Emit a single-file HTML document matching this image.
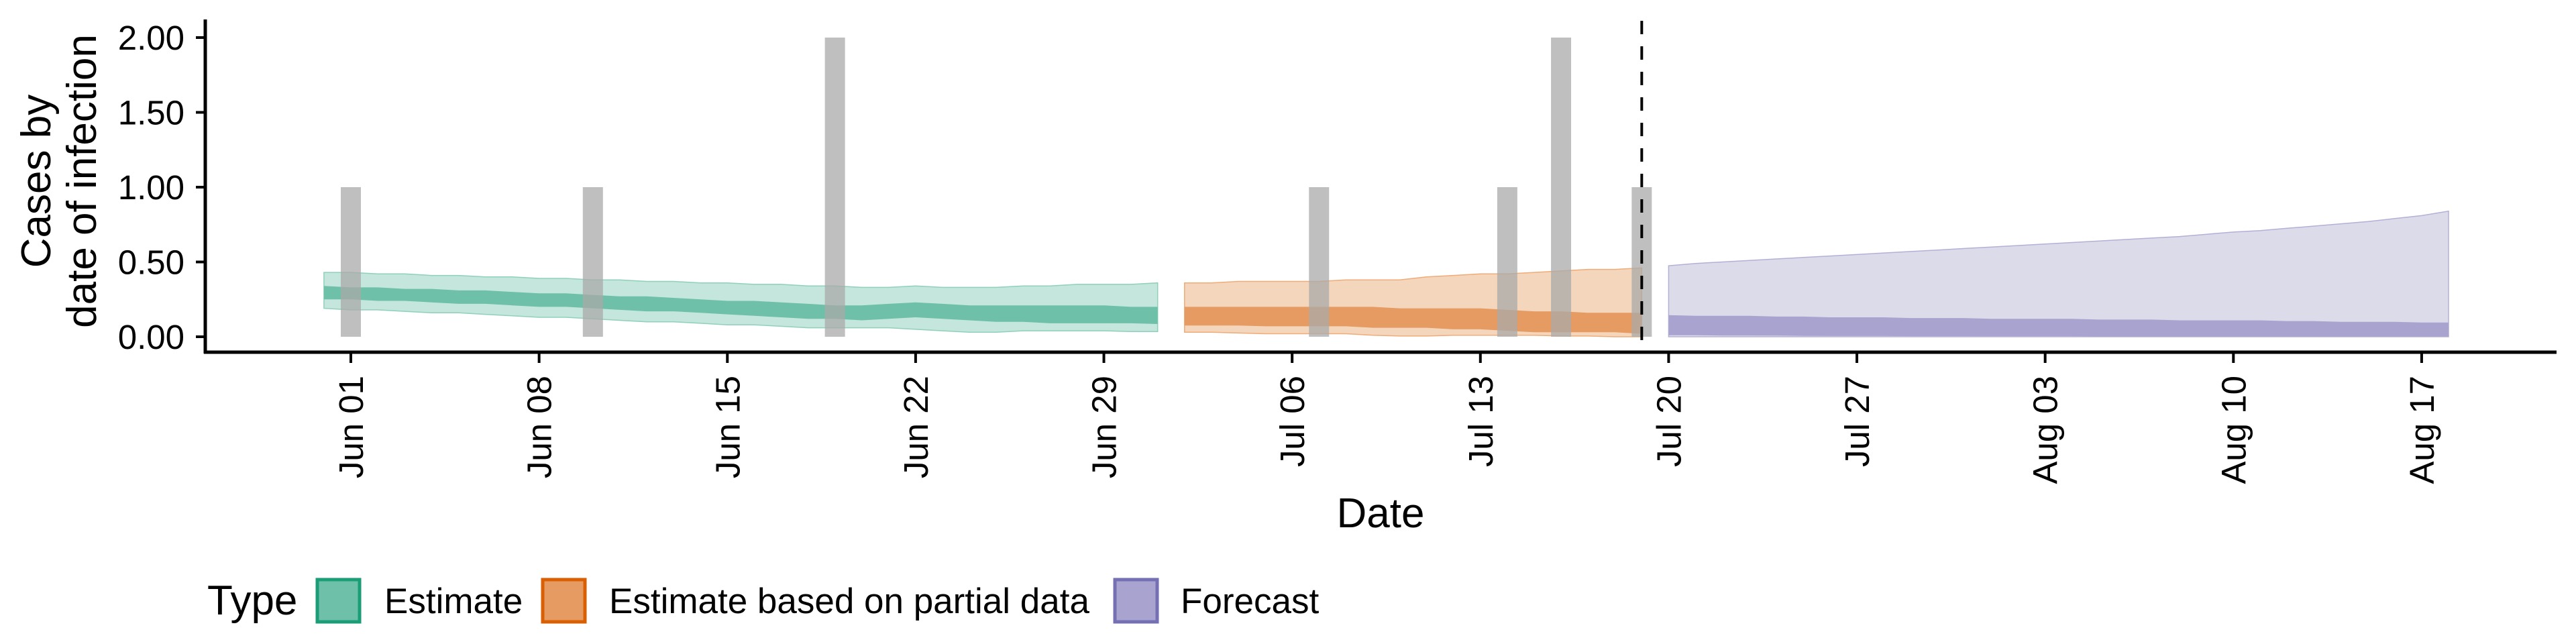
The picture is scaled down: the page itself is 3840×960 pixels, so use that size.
<!DOCTYPE html>
<html><head><meta charset="utf-8"><style>
html,body{margin:0;padding:0;background:#fff;}
svg{display:block;font-family:"Liberation Sans",sans-serif;}
</style></head><body>
<svg id="chart" width="3840" height="960" viewBox="0 0 3840 960"></svg>
<script>
// ---- data ----
const estDates0 = -1; // first estimate date offset from Jun 01 (May 31)
const estOuterUp = [0.43,0.43,0.42,0.42,0.41,0.41,0.40,0.40,0.39,0.39,0.38,0.38,0.37,0.37,0.36,0.36,0.35,0.35,0.34,0.34,0.33,0.33,0.34,0.33,0.33,0.33,0.34,0.34,0.35,0.35,0.35,0.36];
const estInnerUp = [0.34,0.33,0.33,0.32,0.32,0.31,0.31,0.30,0.29,0.29,0.28,0.27,0.27,0.26,0.25,0.24,0.24,0.23,0.22,0.21,0.21,0.22,0.23,0.22,0.21,0.21,0.21,0.21,0.21,0.21,0.20,0.20];
const estInnerLo = [0.25,0.25,0.24,0.24,0.23,0.22,0.22,0.21,0.20,0.20,0.19,0.18,0.17,0.17,0.16,0.15,0.14,0.13,0.12,0.12,0.11,0.12,0.13,0.12,0.11,0.10,0.10,0.09,0.09,0.09,0.09,0.085];
const estOuterLo = [0.19,0.18,0.18,0.17,0.16,0.16,0.15,0.14,0.13,0.13,0.12,0.11,0.10,0.10,0.09,0.08,0.08,0.07,0.06,0.06,0.06,0.06,0.05,0.04,0.03,0.03,0.04,0.04,0.04,0.04,0.035,0.035];

const partDates0 = 31; // Jul 02
const partOuterUp = [0.36,0.36,0.37,0.37,0.37,0.37,0.38,0.38,0.38,0.40,0.41,0.42,0.42,0.43,0.44,0.45,0.45,0.46];
const partInnerUp = [0.20,0.20,0.20,0.20,0.20,0.20,0.20,0.20,0.19,0.19,0.19,0.19,0.18,0.17,0.17,0.16,0.16,0.16];
const partInnerLo = [0.075,0.075,0.075,0.07,0.07,0.07,0.07,0.06,0.06,0.06,0.05,0.05,0.04,0.03,0.03,0.03,0.03,0.02];
const partOuterLo = [0.03,0.03,0.025,0.02,0.02,0.02,0.02,0.01,0.005,0.005,0.01,0.01,0.01,0.01,0.005,0.005,0.0,0.0];

const fcDates0 = 49; // Jul 20
const fcOuterUp = [0.475,0.49,0.50,0.51,0.52,0.53,0.54,0.55,0.56,0.57,0.58,0.59,0.60,0.61,0.62,0.63,0.64,0.65,0.66,0.67,0.685,0.70,0.71,0.725,0.74,0.755,0.77,0.79,0.81,0.84];
const fcInnerUp = [0.145,0.14,0.14,0.14,0.135,0.135,0.13,0.13,0.13,0.125,0.125,0.125,0.12,0.12,0.12,0.12,0.115,0.115,0.115,0.11,0.11,0.11,0.11,0.105,0.105,0.10,0.10,0.10,0.095,0.095];
const fcInnerLo = [0.01,0.01,0.008,0.008,0.007,0.006,0.005,0.005,0.005,0.004,0.004,0.004,0.003,0.003,0.003,0.003,0.002,0.002,0.002,0.002,0.002,0.002,0.002,0.002,0.002,0.002,0.002,0.002,0.002,0.002];
const fcOuterLo = [0,0,0,0,0,0,0,0,0,0,0,0,0,0,0,0,0,0,0,0,0,0,0,0,0,0,0,0,0,0];

const obsDays = [0,9,18,36,43,45,48];
const obsValues = [1,1,2,1,1,2,1];

const tickDays = [0,7,14,21,28,35,42,49,56,63,70,77];
const tickLabels = ["Jun 01","Jun 08","Jun 15","Jun 22","Jun 29","Jul 06","Jul 13","Jul 20","Jul 27","Aug 03","Aug 10","Aug 17"];
const yTicks = [0,0.5,1,1.5,2];
const yTickLabels = ["0.00","0.50","1.00","1.50","2.00"];
const forecastDay = 48;

// ---- scales ----
const X0 = 523, PXD = 40.09, Y0 = 502, PXU = 223;
const xs = d => X0 + d * PXD;
const ys = v => Y0 - v * PXU;
const NS = "http://www.w3.org/2000/svg";
const svg = document.getElementById('chart');
function mk(tag, attrs, parent){const e=document.createElementNS(NS,tag);for(const k in attrs)e.setAttribute(k,attrs[k]);(parent||svg).appendChild(e);return e;}

function ribbon(start, up, lo, fill, stroke, name){
  const n = up.length;
  let pts = [];
  for(let i=0;i<n;i++){const x0=xs(start+i)-PXD/2,x1=xs(start+i)+PXD/2;pts.push([i===0?xs(start+i)-PXD*0.0:x0,ys(up[i])]);pts.push([x1,ys(up[i])]);}
  // smooth-ish: use point at day centers, extend ends
  pts = [];
  for(let i=0;i<n;i++) pts.push([xs(start+i),ys(up[i])]);
  for(let i=n-1;i>=0;i--) pts.push([xs(start+i),ys(lo[i])]);
  const p = mk('polygon',{points:pts.map(p=>p[0].toFixed(1)+','+p[1].toFixed(1)).join(' '),fill:fill,stroke:stroke||'none','stroke-width':stroke?1.5:0});
  
  
}
const gBands = mk('g',{});



ribbon(estDates0, estOuterUp, estOuterLo, '#c5e6dc', '#8fd0bb', 'estimate-outer-band');
ribbon(estDates0, estInnerUp, estInnerLo, '#6fc0a8', null, 'estimate-inner-band');
ribbon(partDates0, partOuterUp, partOuterLo, '#f4d6bd', '#efab78', 'partial-outer-band');
ribbon(partDates0, partInnerUp, partInnerLo, '#e59b62', null, 'partial-inner-band');
ribbon(fcDates0, fcOuterUp, fcOuterLo, '#dcdbea', '#b3b0d6', 'forecast-outer-band');
ribbon(fcDates0, fcInnerUp, fcInnerLo, '#a8a4cf', null, 'forecast-inner-band');

// observed bars
obsDays.forEach((d,i)=>{
  const r = mk('rect',{x:xs(d)-15,y:ys(obsValues[i]),width:30,height:ys(0)-ys(obsValues[i]),fill:'#a9a9a9','fill-opacity':0.75});
  
  
});

// forecast divider
const dl = mk('line',{x1:xs(forecastDay),x2:xs(forecastDay),y1:31,y2:523,stroke:'#000','stroke-width':4,'stroke-dasharray':'20 18'});



// axes
const ya = mk('line',{x1:306,x2:306,y1:29,y2:527,stroke:'#000','stroke-width':5});


const xa = mk('line',{x1:304,x2:3811,y1:525,y2:525,stroke:'#000','stroke-width':5});



yTicks.forEach((v,i)=>{
  const t = mk('line',{x1:292,x2:306,y1:ys(v),y2:ys(v),stroke:'#000','stroke-width':4});
  
  
  const l = mk('text',{x:275,y:ys(v)+18,'text-anchor':'end','font-size':51,fill:'#000'});
  l.textContent = yTickLabels[i];
  
  
});
tickDays.forEach((d,i)=>{
  const t = mk('line',{x1:xs(d),x2:xs(d),y1:525,y2:541,stroke:'#000','stroke-width':4});
  
  
  const l = mk('text',{x:0,y:0,'text-anchor':'end','font-size':51,fill:'#000',transform:'translate('+(xs(d)+18)+',560) rotate(-90)'});
  l.textContent = tickLabels[i];
  
  
});
</script>
<svg style="position:absolute;left:0;top:0" width="3840" height="960">
  <text x="2058" y="786" text-anchor="middle" font-family="Liberation Sans, sans-serif" font-size="62">Date</text>
  <g transform="translate(75,270) rotate(-90)" font-family="Liberation Sans, sans-serif" font-size="62" text-anchor="middle">
    <text x="0" y="0">Cases by</text>
    <text x="0" y="68">date of infection</text>
  </g>
  <g font-family="Liberation Sans, sans-serif" font-size="53">
    <text x="309" y="916" font-size="62">Type</text>
    <g>
      <rect x="473" y="864" width="63" height="63" fill="#6fc0a8" stroke="#1b9e77" stroke-width="5"/>
      <text x="573" y="914">Estimate</text>
    </g>
    <g>
      <rect x="809" y="864" width="63" height="63" fill="#e59b62" stroke="#d95f02" stroke-width="5"/>
      <text x="908" y="914">Estimate based on partial data</text>
    </g>
    <g>
      <rect x="1662" y="864" width="63" height="63" fill="#a8a4cf" stroke="#7570b3" stroke-width="5"/>
      <text x="1760" y="914">Forecast</text>
    </g>
  </g>
</svg>
</body></html>
